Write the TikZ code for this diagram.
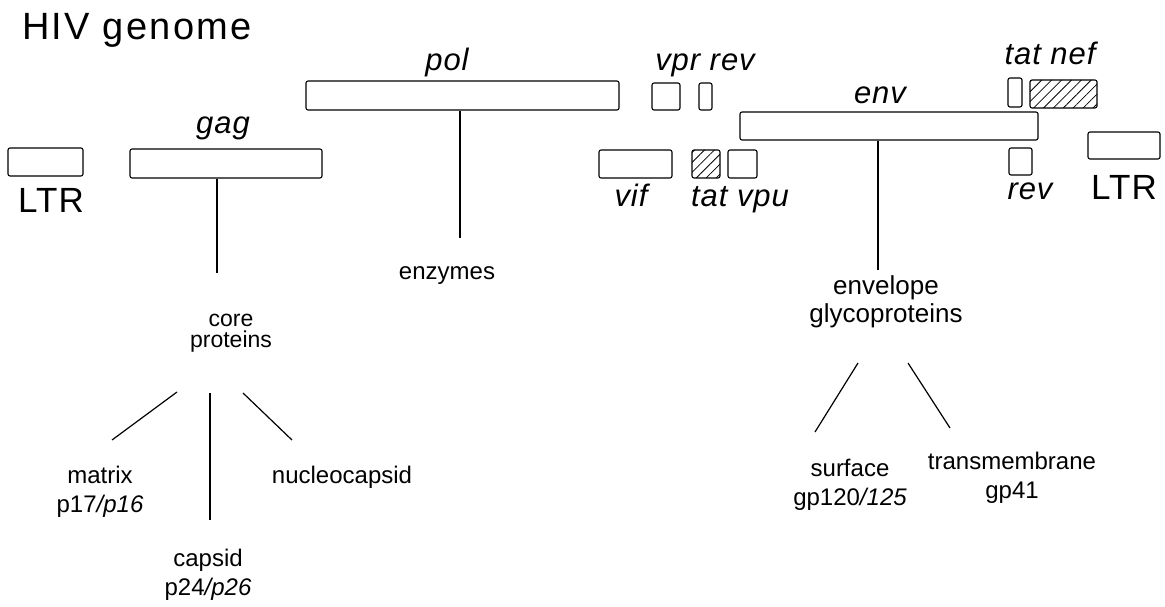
\documentclass[tikz,border=0pt]{standalone}
\usepackage{fontspec}
\setmainfont{Liberation Sans}
\newfontfamily\titlefont[LetterSpace=6]{Liberation Sans}
\newfontfamily\genefont[LetterSpace=3]{Liberation Sans}
\usetikzlibrary{patterns.meta}

\begin{document}
\begin{tikzpicture}[x=1pt,y=1pt,yscale=-1,xscale=1,
  genebox/.style={draw,rounded corners=2pt,line width=1.1pt,inner sep=0pt},
  hatchbox/.style={genebox,pattern={Lines[angle=45,distance=7pt,line width=0.8pt]}},
  genelabel/.style={inner sep=0pt,anchor=base,font=\genefont\itshape\fontsize{31}{32}\selectfont},
  ltrlabel/.style={inner sep=0pt,anchor=base,font=\genefont\fontsize{35}{36}\selectfont},
  protlabel/.style={inner sep=0pt,align=center,font=\fontsize{24}{29}\selectfont},
  stem/.style={line width=1.2pt}]
\useasboundingbox (0,0) rectangle (1165,607);

% Title
\node [anchor=base west,inner sep=0pt,font=\titlefont\fontsize{38}{40}\selectfont] (title) at (22,40) {HIV genome};

%Rounded Rect: genes
\node [genebox,minimum width=75,minimum height=28] (ltrL) at (45.5,162) {};
\node [genebox,minimum width=192,minimum height=29] (gag) at (226,163.5) {};
\node [genebox,minimum width=313,minimum height=29] (pol) at (462.5,95.5) {};
\node [genebox,minimum width=28,minimum height=27] (vpr) at (666,96.5) {};
\node [genebox,minimum width=13,minimum height=27] (revA) at (705.5,96.5) {};
\node [genebox,minimum width=73,minimum height=28] (vif) at (635.5,164) {};
\node [hatchbox,minimum width=28,minimum height=28] (tatA) at (706,164) {};
\node [genebox,minimum width=29,minimum height=28] (vpu) at (742.5,164) {};
\node [genebox,minimum width=298,minimum height=28] (env) at (889,126) {};
\node [genebox,minimum width=14,minimum height=29] (tatB) at (1015,92.5) {};
\node [hatchbox,minimum width=67,minimum height=28] (nef) at (1063.5,94) {};
\node [genebox,minimum width=23,minimum height=27] (revB) at (1020.5,161.5) {};
\node [genebox,minimum width=72,minimum height=27] (ltrR) at (1124,145.5) {};

% Text Node: gene names
\node [ltrlabel] (ltrLlab) at (51,212) {LTR};
\node [ltrlabel] (ltrRlab) at (1124,199) {LTR};
\node [genelabel] (gaglab) at (223,134) {gag};
\node [genelabel] (pollab) at (447,71) {pol};
\node [genelabel] (vprlab) at (705,71) {vpr rev};
\node [genelabel] (neflab) at (1050,65) {tat nef};
\node [genelabel] (envlab) at (880,104) {env};
\node [genelabel] (viflab) at (631,206) {vif};
\node [genelabel] (vpulab) at (740,207) {tat vpu};
\node [genelabel] (revlab) at (1030,199) {rev};

% Text Node: products
\node [protlabel,anchor=base] (enzymes) at (447,279) {enzymes};
\node [protlabel,font=\fontsize{23}{21}\selectfont] (core) at (231,333) {core\\proteins};
\node [protlabel,font=\fontsize{26}{28}\selectfont] (envgp) at (886,302) {envelope\\glycoproteins};
\node [protlabel] (matrix) at (100,492) {matrix\\p17\textit{/p16}};
\node [protlabel,anchor=base] (nucleo) at (342,483) {nucleocapsid};
\node [protlabel] (capsid) at (208,575) {capsid\\p24\textit{/p26}};
\node [protlabel] (surface) at (850,485) {surface\\gp120\textit{/125}};
\node [protlabel] (transm) at (1012,478) {transmembrane\\gp41};

% ends of the lines
\coordinate (gagend) at (217,273);
\coordinate (polend) at (460,238);
\coordinate (envend) at (878,270);
\coordinate (mxtop) at (177,392);
\coordinate (mxend) at (112,440);
\coordinate (cptop) at (210,393);
\coordinate (cpend) at (210,520);
\coordinate (nctop) at (243,393);
\coordinate (ncend) at (292,440);
\coordinate (sftop) at (858,363);
\coordinate (sfend) at (815,432);
\coordinate (tmtop) at (908,363);
\coordinate (tmend) at (950,428);

%Straight Lines
\draw [stem] (gag.south -| gagend) -- (gagend);
\draw [stem] (pol.south -| polend) -- (polend);
\draw [stem] (env.south -| envend) -- (envend);
\draw [stem] (mxtop) -- (mxend);
\draw [stem] (cptop) -- (cpend);
\draw [stem] (nctop) -- (ncend);
\draw [stem] (sftop) -- (sfend);
\draw [stem] (tmtop) -- (tmend);

\end{tikzpicture}
\end{document}
